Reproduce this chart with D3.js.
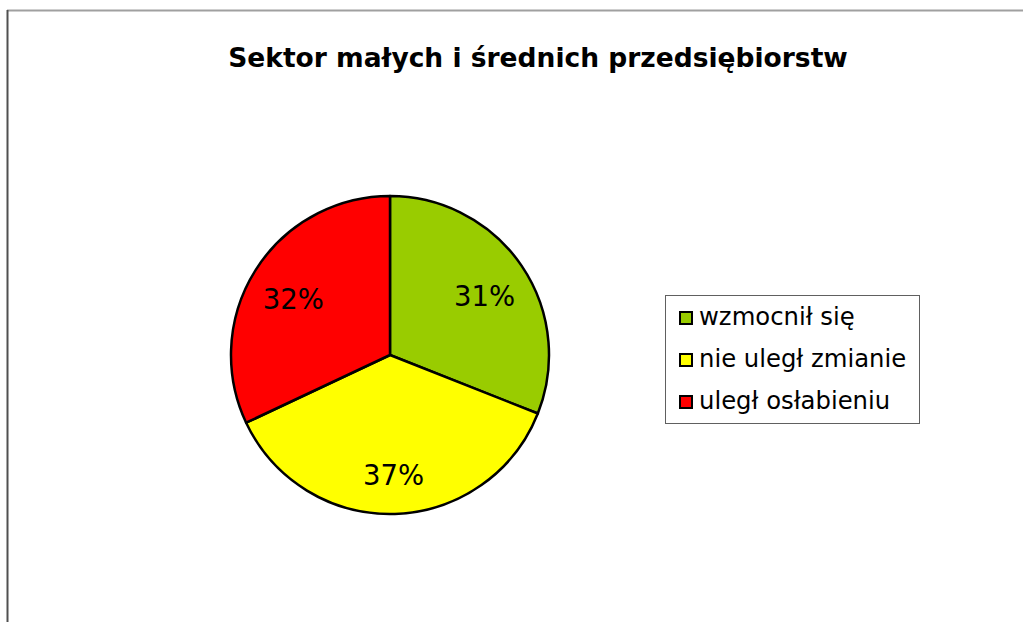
<!DOCTYPE html>
<html>
<head>
<meta charset="utf-8">
<script src="https://cdn.jsdelivr.net/npm/d3@7"></script>
<style>
  body { margin: 0; background: #fff; }
  svg { display: block; font-family: "DejaVu Sans", Verdana, sans-serif; }
</style>
</head>
<body>
<svg width="1023" height="622"></svg>
<script>
// chart data
var categories = ["wzmocnił się", "nie uległ zmianie", "uległ osłabieniu"];
var shares = [31, 37, 32];
var colors = ["#99cc00", "#ffff00", "#ff0000"];
var title = "Sektor małych i średnich przedsiębiorstw";

var svg = d3.select("svg");

// frame of the chart area (only top and left edges show)
svg.append("line").attr("x1", 7).attr("y1", 10.5).attr("x2", 1023).attr("y2", 10.5)
    .attr("stroke", "#a0a0a0").attr("stroke-width", 2);
svg.append("line").attr("x1", 7.5).attr("y1", 10).attr("x2", 7.5).attr("y2", 622)
    .attr("stroke", "#505050").attr("stroke-width", 2);

svg.append("text").attr("x", 538).attr("y", 67).attr("text-anchor", "middle")
    .attr("font-size", 26.5).attr("font-weight", "bold").text(title);

// pie
var cx = 390, cy = 355, R = 159;
var pie = d3.pie().sort(null).value(function(d) { return d; });
var arc = d3.arc().innerRadius(0).outerRadius(R);
var labelArc = d3.arc().innerRadius(R * 0.72).outerRadius(R * 0.72);
var arcs = pie(shares);

var g = svg.append("g").attr("transform", "translate(" + cx + "," + cy + ")");
g.selectAll("path").data(arcs).enter().append("path")
    .attr("d", arc)
    .attr("fill", function(d, i) { return colors[i]; })
    .attr("stroke", "#000").attr("stroke-width", 2.5).attr("stroke-linejoin", "round");

// value labels, nudged down a bit like the original
g.selectAll("text").data(arcs).enter().append("text")
    .attr("transform", function(d) { return "translate(" + labelArc.centroid(d) + ")"; })
    .attr("text-anchor", "middle").attr("dy", "0.56em")
    .attr("font-size", 27.5)
    .text(function(d) { return d.data + "%"; });

// legend
var lg = svg.append("g").attr("transform", "translate(665,295)");
lg.append("rect").attr("x", 0.5).attr("y", 0.5).attr("width", 254).attr("height", 128)
    .attr("fill", "#fff").attr("stroke", "#606060").attr("stroke-width", 1);
var rowY = d3.scalePoint().domain(categories).range([30, 114]);
var items = lg.selectAll("g.item").data(categories).enter().append("g")
    .attr("transform", function(d) { return "translate(0," + rowY(d) + ")"; });
items.append("rect").attr("x", 15).attr("y", -13).attr("width", 12).attr("height", 12)
    .attr("fill", function(d, i) { return colors[i]; })
    .attr("stroke", "#000").attr("stroke-width", 2);
items.append("text").attr("x", 34).attr("y", 0).attr("font-size", 24.3)
    .text(function(d) { return d; });
</script>
</body>
</html>
